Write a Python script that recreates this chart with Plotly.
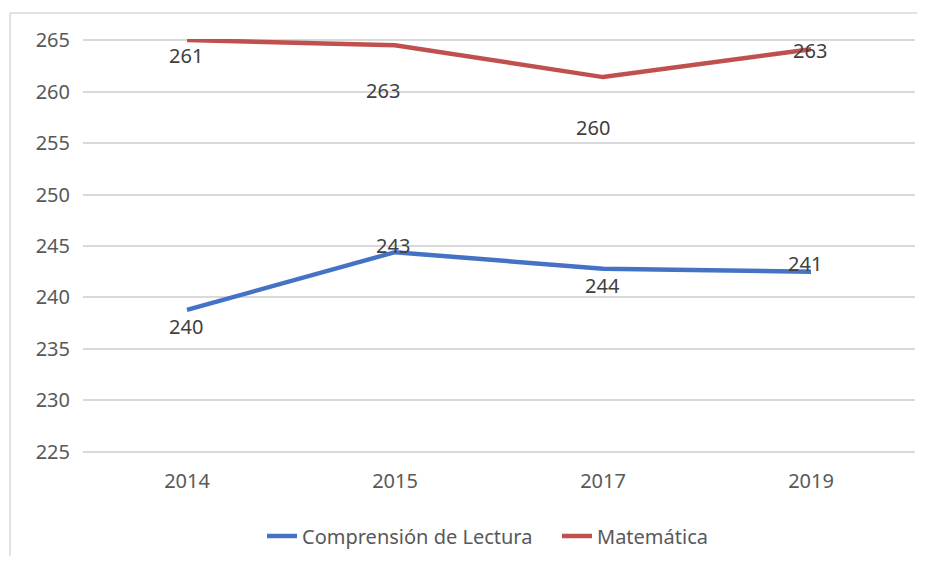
import plotly.graph_objects as go

years = ["2014", "2015", "2017", "2019"]
lectura = [238.8, 244.4, 242.8, 242.5]
matematica = [265.0, 264.5, 261.4, 264.1]
lectura_labels = ["240", "243", "244", "241"]
matematica_labels = ["261", "263", "260", "263"]
y_ticks = [225, 230, 235, 240, 245, 250, 255, 260, 265]

# the page draws the figure with an 8px body margin; keep it inside the window
W, H = 909, 548
ML, MR, MT, MB = 75, 2, 31, 103
PW, PH = W - ML - MR, H - MT - MB
FONT = "Noto Sans"
GRAY = "#595959"

fig = go.Figure()
fig.add_trace(go.Scatter(x=years, y=lectura, mode="lines", name="Comprensión de Lectura",
                         line=dict(color="#4472C4", width=4.5)))
fig.add_trace(go.Scatter(x=years, y=matematica, mode="lines", name="Matemática",
                         line=dict(color="#C0504D", width=4.5)))

# label offsets (pixels) as seen in the reference
lec_off = [(-1, -17), (-2, 7), (-1, -17), (-6, 8)]
mat_off = [(-1, -15), (-12, -45), (-10, -50), (-1, -1)]
for ys, labs, offs in [(lectura, lectura_labels, lec_off),
                       (matematica, matematica_labels, mat_off)]:
    for i, (y, t, (dx, dy)) in enumerate(zip(ys, labs, offs)):
        fig.add_annotation(x=i, y=y, text=t, showarrow=False, xshift=dx, yshift=dy,
                           font=dict(family=FONT, size=20, color="#404040"))

# outer frame (top and left edges)
fx0 = (2 - ML) / PW
fy1 = 1 + (MT - 5) / PH
fy0 = -MB / PH
fig.add_shape(type="line", xref="paper", yref="paper", x0=fx0, x1=1 + MR / PW,
              y0=fy1, y1=fy1, line=dict(color="#D9D9D9", width=1.5))
fig.add_shape(type="line", xref="paper", yref="paper", x0=fx0, x1=fx0,
              y0=fy0, y1=fy1, line=dict(color="#D9D9D9", width=1.5))

fig.update_layout(
    width=W, height=H,
    margin=dict(l=ML, r=MR, t=MT, b=MB, autoexpand=False),
    paper_bgcolor="white", plot_bgcolor="white",
    font=dict(family=FONT, size=20, color=GRAY),
    showlegend=True,
    legend=dict(orientation="h", x=(262 - 8 - ML) / PW, xanchor="left",
                y=-(527 - 444) / PH, yanchor="middle",
                font=dict(family=FONT, size=20, color=GRAY),
                itemwidth=30, entrywidth=250, traceorder="normal"),
    xaxis=dict(type="category", range=[-0.5, 3.5], showgrid=False, zeroline=False,
               showline=False, ticks="", ticklabelstandoff=14,
               tickfont=dict(size=20, color=GRAY)),
    yaxis=dict(range=[224.9, 265.1], tickvals=y_ticks, showgrid=True, gridcolor="#D9D9D9",
               gridwidth=1.5, zeroline=False, showline=False, ticks="",
               ticklabelstandoff=12, tickfont=dict(size=20, color=GRAY)),
)

fig.write_html("out.html")
